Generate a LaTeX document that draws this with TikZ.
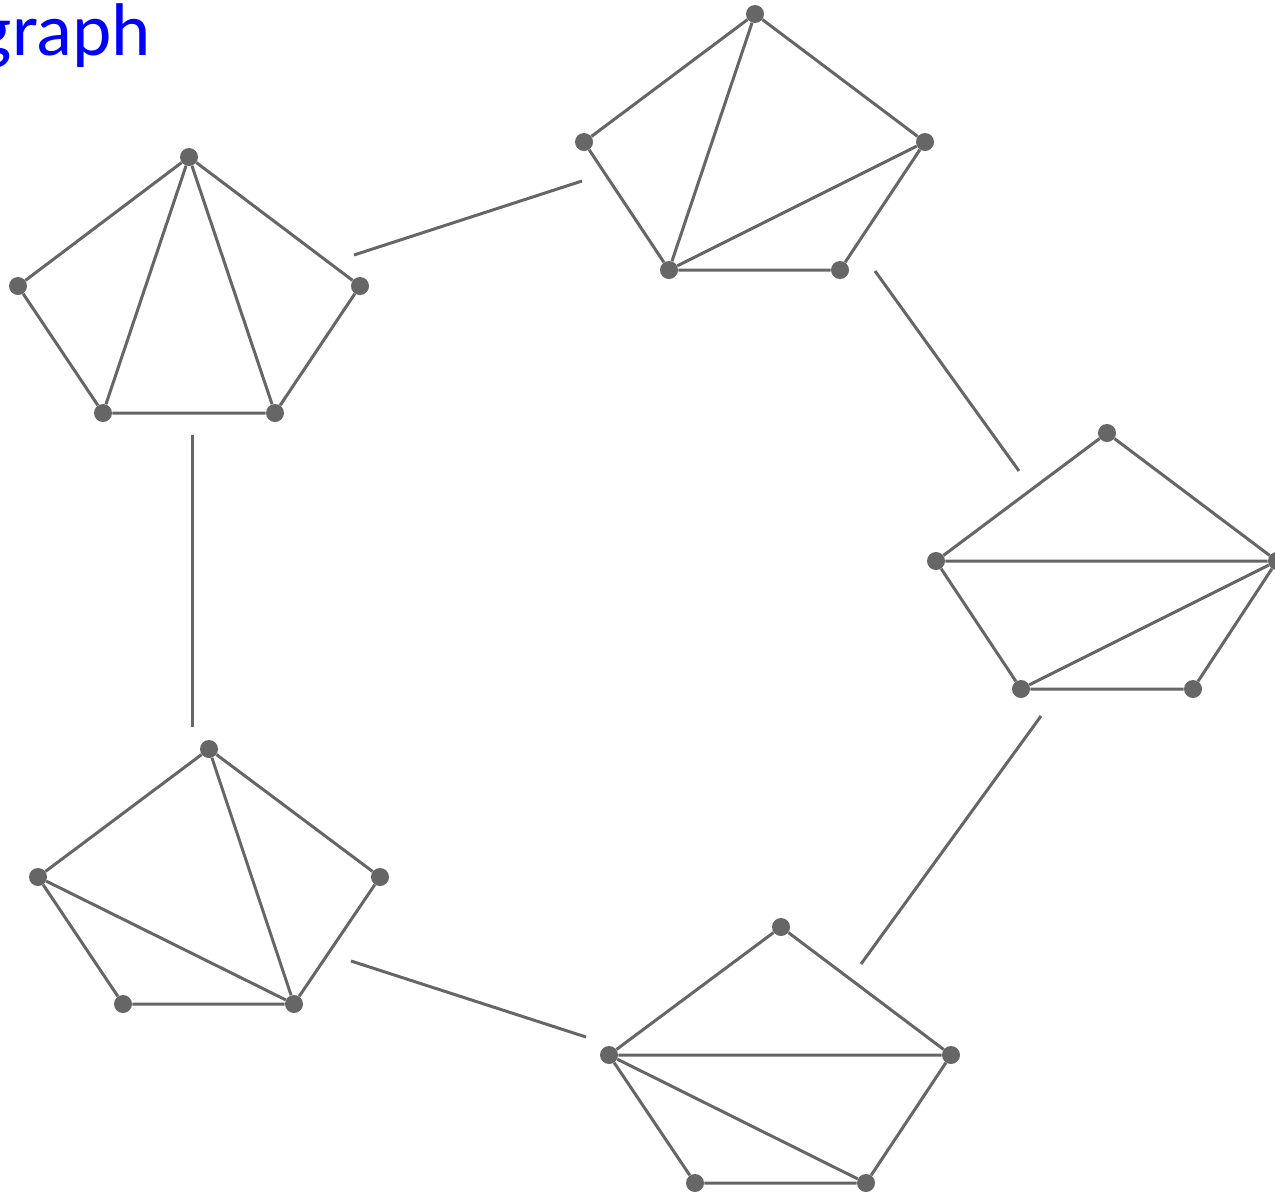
\documentclass[tikz,border=0pt]{standalone}
\usepackage{fontspec}
\newfontfamily\titlefont{Carlito}
\begin{document}
\begin{tikzpicture}[x=0.75pt,y=-0.75pt,
  vtx/.style={circle,fill=gcol,inner sep=0pt,minimum size=13.5pt},
  edge/.style={draw=gcol,line width=2.25pt},
  link/.style={draw=gcol,line width=2.25pt}]
\definecolor{gcol}{RGB}{102,102,102}
\useasboundingbox (0,0) rectangle (1275,1193);
\clip (0,0) rectangle (1275,1193);
\node[anchor=base east,text=blue,font=\titlefont\fontsize{56pt}{60pt}\selectfont,inner sep=0pt] (title) at (151,55) {graph};
% pentagon A
\node[vtx] (a1) at (189,157) {};
\node[vtx] (a2) at (18,286) {};
\node[vtx] (a3) at (360,286) {};
\node[vtx] (a4) at (103,413) {};
\node[vtx] (a5) at (275,413) {};
\draw[edge] (a1)--(a2) (a2)--(a4) (a4)--(a5) (a5)--(a3) (a3)--(a1) (a1)--(a4) (a1)--(a5);
% pentagon B
\node[vtx] (b1) at (755,14) {};
\node[vtx] (b2) at (584,142) {};
\node[vtx] (b3) at (925,142) {};
\node[vtx] (b4) at (669,270) {};
\node[vtx] (b5) at (840,270) {};
\draw[edge] (b1)--(b2) (b2)--(b4) (b4)--(b5) (b5)--(b3) (b3)--(b1) (b1)--(b4) (b3)--(b4);
% pentagon C
\node[vtx] (c1) at (1107,433) {};
\node[vtx] (c2) at (936,561) {};
\node[vtx] (c3) at (1277,561) {};
\node[vtx] (c4) at (1021,689) {};
\node[vtx] (c5) at (1193,689) {};
\draw[edge] (c1)--(c2) (c2)--(c4) (c4)--(c5) (c5)--(c3) (c3)--(c1) (c2)--(c3) (c3)--(c4);
% pentagon D
\node[vtx] (d1) at (781,927) {};
\node[vtx] (d2) at (609,1055) {};
\node[vtx] (d3) at (951,1055) {};
\node[vtx] (d4) at (695,1183) {};
\node[vtx] (d5) at (866,1183) {};
\draw[edge] (d1)--(d2) (d2)--(d4) (d4)--(d5) (d5)--(d3) (d3)--(d1) (d2)--(d3) (d2)--(d5);
% pentagon E
\node[vtx] (e1) at (209,749) {};
\node[vtx] (e2) at (38,877) {};
\node[vtx] (e3) at (380,877) {};
\node[vtx] (e4) at (123,1004) {};
\node[vtx] (e5) at (294,1004) {};
\draw[edge] (e1)--(e2) (e2)--(e4) (e4)--(e5) (e5)--(e3) (e3)--(e1) (e1)--(e5) (e2)--(e5);
% links between pentagons
\coordinate (ab1) at (354,255);
\coordinate (ab2) at (582,181);
\coordinate (bc1) at (875,271);
\coordinate (bc2) at (1019,471);
\coordinate (cd1) at (1041,716);
\coordinate (cd2) at (861,964);
\coordinate (de1) at (586,1037);
\coordinate (de2) at (351,961);
\coordinate (ea1) at (192,727);
\coordinate (ea2) at (192,435);
\draw[link] (ab1)--(ab2);
\draw[link] (bc1)--(bc2);
\draw[link] (cd1)--(cd2);
\draw[link] (de1)--(de2);
\draw[link] (ea1)--(ea2);
\end{tikzpicture}
\end{document}
